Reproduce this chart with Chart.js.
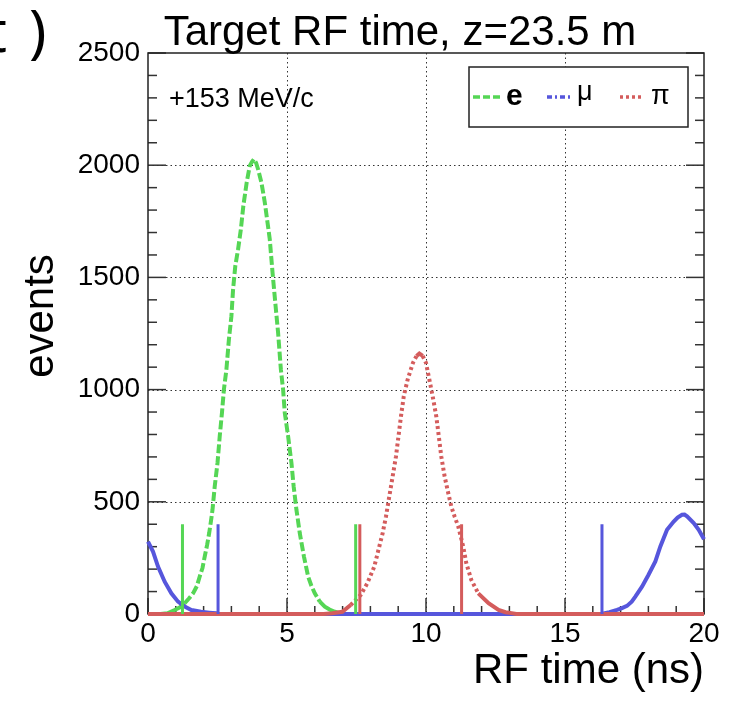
<!DOCTYPE html>
<html>
<head>
<meta charset="utf-8">
<script src="https://cdn.jsdelivr.net/npm/chart.js@4.4.0/dist/chart.umd.min.js"></script>
<style>
html,body{margin:0;padding:0;background:#fff;}
#wrap{width:734px;height:705px;position:relative;}
</style>
</head>
<body>
<div id="wrap"><canvas id="c" width="734" height="705"></canvas></div>
<script>
// ---------- data ----------
const chartTitle = 'Target RF time, z=23.5 m';
const xTitle = 'RF time (ns)';
const yTitle = 'events';
const momentumLabel = '+153 MeV/c';
const panelLetter = 't';
const panelParen = ')';
const seriesNames = ['e', 'μ', 'π'];

const xTicks = [0, 5, 10, 15, 20];
const yTicks = [0, 500, 1000, 1500, 2000, 2500];
const xMinorStep = 1;
const yMinorStep = 100;

// electrons
const eTime   = [0, 0.45, 0.7, 0.96, 1.15, 1.32, 1.48, 1.62, 1.76, 1.86, 1.96, 2.04, 2.13, 2.20, 2.26, 2.32, 2.40, 2.50, 2.58, 2.66, 2.73, 2.82, 2.91, 3.00, 3.06, 3.14, 3.24, 3.34, 3.43, 3.55, 3.66, 3.74, 3.81, 3.89, 3.96, 4.08, 4.20, 4.30, 4.38, 4.48, 4.59, 4.68, 4.78, 4.86, 4.92, 5.04, 5.16, 5.24, 5.34, 5.46, 5.61, 5.76, 5.88, 6.00, 6.18, 6.36, 6.53, 6.72, 6.93, 7.1, 20];
const eEvents = [0, 0, 3, 18, 30, 48, 70, 92, 125, 167, 205, 256, 310, 360, 410, 464, 568, 673, 792, 896, 1000, 1089, 1223, 1327, 1446, 1551, 1625, 1714, 1819, 1923, 1997, 2015, 2027, 2010, 1982, 1923, 1835, 1744, 1670, 1521, 1372, 1253, 1089, 1000, 897, 792, 673, 568, 464, 360, 256, 167, 125, 92, 55, 33, 20, 10, 3, 0, 0];

// muons
const muTime   = [0, 0.18, 0.36, 0.60, 0.84, 1.08, 1.32, 1.56, 1.91, 2.20, 2.45, 2.55, 16.3, 16.6, 16.87, 17.05, 17.23, 17.40, 17.53, 17.77, 18.00, 18.25, 18.43, 18.67, 18.91, 19.05, 19.21, 19.30, 19.39, 19.63, 19.81, 20];
const muEvents = [323, 278, 211, 144, 92, 55, 33, 18, 10, 6, 3, 0, 0, 8, 18, 26, 36, 55, 77, 122, 174, 234, 301, 375, 412, 430, 442, 443, 435, 405, 375, 333];

// pions
const piTime   = [0, 6.32, 6.63, 6.99, 7.29, 7.65, 7.89, 8.14, 8.29, 8.44, 8.56, 8.68, 8.80, 8.92, 9.01, 9.10, 9.20, 9.34, 9.53, 9.66, 9.76, 9.88, 10.00, 10.12, 10.24, 10.37, 10.46, 10.55, 10.67, 10.80, 10.91, 11.03, 11.16, 11.34, 11.45, 11.63, 11.88, 12.25, 12.61, 12.86, 13.08, 13.25, 20];
const piEvents = [0, 0, 3, 10, 40, 85, 137, 211, 286, 360, 434, 524, 613, 702, 792, 881, 970, 1045, 1119, 1150, 1161, 1150, 1119, 1045, 970, 881, 792, 702, 613, 539, 479, 434, 390, 300, 226, 152, 92, 48, 18, 8, 4, 0, 0];

// cut markers (vertical lines)
const eCuts  = [1.24, 7.47];
const muCuts = [2.52, 16.33];
const piCuts = [7.62, 11.28];
const cutHeight = 400;

// ---------- styling ----------
const FONT = "'Liberation Sans', Arial, Helvetica, sans-serif";
const GREEN = '#55d655';
const BLUE  = '#5656dc';
const RED   = '#d45c5c';

function toPoints(xs, ys) { return xs.map((x, i) => ({x: x, y: ys[i]})); }
function cutPoints(ts) {
  const out = [];
  ts.forEach((t, i) => {
    if (i > 0) out.push({x: t, y: null});
    out.push({x: t, y: 0});
    out.push({x: t, y: cutHeight});
  });
  return out;
}
function dashFor(pattern) {
  return ctx => {
    const dx = Math.abs(ctx.p1.x - ctx.p0.x), dy = Math.abs(ctx.p1.y - ctx.p0.y);
    return dy < dx ? [] : pattern;
  };
}

const rootFrame = {
  id: 'rootFrame',
  beforeDatasetsDraw(chart) {
    const {ctx, chartArea: a, scales: {x, y}} = chart;
    ctx.save();
    const line = (x1, y1, x2, y2) => { ctx.beginPath(); ctx.moveTo(x1, y1); ctx.lineTo(x2, y2); ctx.stroke(); };
    // dotted grid
    ctx.strokeStyle = '#333';
    ctx.lineWidth = 1;
    ctx.setLineDash([1.5, 3]);
    xTicks.forEach(v => {
      if (v > x.min && v < x.max) { const px = Math.round(x.getPixelForValue(v)) + 0.5; line(px, a.top, px, a.bottom); }
    });
    yTicks.forEach(v => {
      if (v > y.min && v < y.max) { const py = Math.round(y.getPixelForValue(v)) + 0.5; line(a.left, py, a.right, py); }
    });
    ctx.setLineDash([]);
    // ticks (inside, ROOT style)
    ctx.strokeStyle = '#333';
    ctx.lineWidth = 1.5;
    for (let v = y.min; v <= y.max + 1e-6; v += yMinorStep) {
      const py = y.getPixelForValue(v);
      const len = yTicks.includes(v) ? 18 : 9;
      line(a.left, py, a.left + len, py);
      line(a.right, py, a.right - len, py);
    }
    for (let v = x.min; v <= x.max + 1e-6; v += xMinorStep) {
      const px = x.getPixelForValue(v);
      const len = xTicks.includes(v) ? 16 : 8;
      line(px, a.bottom, px, a.bottom - len);
    }
    // frame
    ctx.strokeStyle = '#222';
    ctx.lineWidth = 1.5;
    ctx.strokeRect(a.left, a.top, a.right - a.left, a.bottom - a.top);
    ctx.restore();
  },
  afterDraw(chart) {
    const {ctx, chartArea: a} = chart;
    ctx.save();
    ctx.fillStyle = '#000';
    // title
    ctx.font = '42px ' + FONT;
    ctx.textAlign = 'center';
    ctx.textBaseline = 'alphabetic';
    ctx.fillText(chartTitle, 400, 45);
    // panel label (cut at left edge)
    ctx.font = '58px "Noto Sans", "DejaVu Sans", sans-serif';
    ctx.textAlign = 'left';
    ctx.fillText(panelLetter, -14, 52);
    ctx.fillText(panelParen, 29, 52);
    // axis titles
    ctx.font = '42px ' + FONT;
    ctx.textAlign = 'right';
    ctx.fillText(xTitle, a.right, 683);
    ctx.save();
    ctx.translate(53, 316);
    ctx.rotate(-Math.PI / 2);
    ctx.textAlign = 'center';
    ctx.fillText(yTitle, 0, 0);
    ctx.restore();
    // momentum label
    ctx.font = '27px ' + FONT;
    ctx.textAlign = 'left';
    ctx.fillText(momentumLabel, 169, 107);
    // legend box
    const lx = 469, ly = 67, lw = 219, lh = 60;
    ctx.fillStyle = '#fff';
    ctx.fillRect(lx, ly, lw, lh);
    ctx.strokeStyle = '#222';
    ctx.lineWidth = 1.5;
    ctx.strokeRect(lx, ly, lw, lh);
    const sy = 97;
    const sample = (x1, x2, color, dash) => {
      ctx.strokeStyle = color; ctx.lineWidth = 3.5; ctx.setLineDash(dash);
      ctx.beginPath(); ctx.moveTo(x1, sy); ctx.lineTo(x2, sy); ctx.stroke();
    };
    sample(473, 503, GREEN, [7, 3]);
    sample(547, 571, BLUE, [5, 3, 2, 3]);
    sample(620, 644, RED, [3, 3]);
    ctx.setLineDash([]);
    ctx.fillStyle = '#000';
    ctx.font = 'bold 30px ' + FONT;
    ctx.fillText(seriesNames[0], 506, 105);
    ctx.font = '27px ' + FONT;
    ctx.fillText(seriesNames[1], 577, 100);
    ctx.fillText(seriesNames[2], 651, 104);
    ctx.restore();
  }
};

const curveCommon = { pointRadius: 0, tension: 0, fill: false, clip: 10 };

new Chart(document.getElementById('c'), {
  type: 'line',
  data: {
    datasets: [
      Object.assign({ label: seriesNames[0], data: toPoints(eTime, eEvents), borderColor: GREEN, borderWidth: 4,
        borderDash: [9, 3], segment: { borderDash: dashFor([9, 3]) }, order: 2 }, curveCommon),
      Object.assign({ label: seriesNames[1], data: toPoints(muTime, muEvents), borderColor: BLUE, borderWidth: 4,
        order: 1 }, curveCommon),
      Object.assign({ label: seriesNames[2], data: toPoints(piTime, piEvents), borderColor: RED, borderWidth: 4,
        borderDash: [3, 3], segment: { borderDash: dashFor([3, 3]) }, order: 0 }, curveCommon),
      Object.assign({ label: 'e cut', data: cutPoints(eCuts), borderColor: GREEN, borderWidth: 3, order: -1, spanGaps: false }, curveCommon),
      Object.assign({ label: 'mu cut', data: cutPoints(muCuts), borderColor: BLUE, borderWidth: 3, order: -1, spanGaps: false }, curveCommon),
      Object.assign({ label: 'pi cut', data: cutPoints(piCuts), borderColor: RED, borderWidth: 3, order: -2, spanGaps: false }, curveCommon)
    ]
  },
  options: {
    responsive: false,
    animation: false,
    devicePixelRatio: 1,
    layout: { padding: { top: 53, right: 30, left: 0, bottom: 0 } },
    plugins: { legend: { display: false }, tooltip: { enabled: false }, title: { display: false } },
    scales: {
      x: {
        type: 'linear', min: 0, max: 20,
        grid: { display: false, drawTicks: false, tickLength: 0 },
        border: { display: false },
        ticks: { font: { family: FONT, size: 28 }, color: '#000', padding: 3, maxRotation: 0, autoSkip: false,
                 callback: v => String(v) },
        afterBuildTicks: s => { s.ticks = xTicks.map(v => ({value: v})); },
        afterFit: s => { s.height = 91; }
      },
      y: {
        type: 'linear', min: 0, max: 2500,
        grid: { display: false, drawTicks: false, tickLength: 0 },
        border: { display: false },
        ticks: { font: { family: FONT, size: 28 }, color: '#000', padding: 8, autoSkip: false,
                 callback: v => String(v) },
        afterBuildTicks: s => { s.ticks = yTicks.map(v => ({value: v})); },
        afterFit: s => { s.width = 148; }
      }
    }
  },
  plugins: [rootFrame]
});
</script>
</body>
</html>
